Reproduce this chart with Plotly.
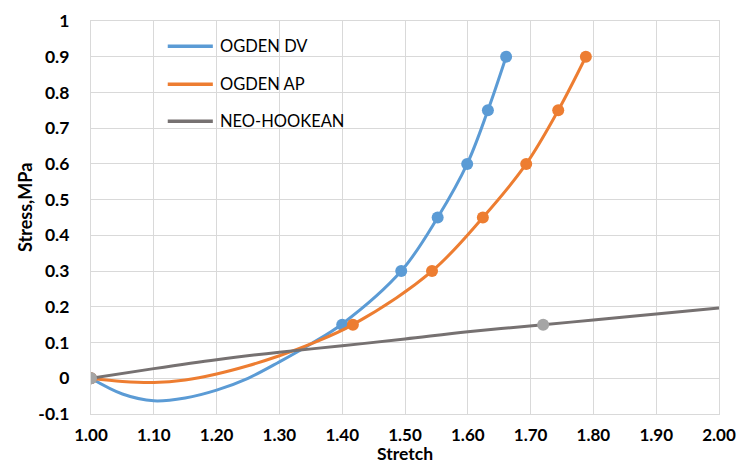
import plotly.graph_objects as go

# ---- data ----
dv_line_x = [1.00, 1.05, 1.10, 1.15, 1.20, 1.25, 1.30, 1.35, 1.40, 1.494, 1.552, 1.599, 1.632, 1.661]
dv_line_y = [0.0, -0.044, -0.063, -0.055, -0.033, 0.000, 0.046, 0.096, 0.152, 0.30, 0.45, 0.60, 0.75, 0.90]
dv_mark_x = [1.00, 1.40, 1.494, 1.552, 1.599, 1.632, 1.661]
dv_mark_y = [0.0, 0.15, 0.30, 0.45, 0.60, 0.75, 0.90]

ap_line_x = [1.00, 1.05, 1.10, 1.15, 1.20, 1.25, 1.30, 1.35, 1.417, 1.543, 1.624, 1.693, 1.744, 1.788]
ap_line_y = [0.0, -0.009, -0.012, -0.005, 0.012, 0.035, 0.063, 0.096, 0.15, 0.30, 0.45, 0.60, 0.75, 0.90]
ap_mark_x = [1.00, 1.417, 1.543, 1.624, 1.693, 1.744, 1.788]
ap_mark_y = [0.0, 0.15, 0.30, 0.45, 0.60, 0.75, 0.90]

nh_line_x = [1.00, 1.10, 1.20, 1.30, 1.40, 1.50, 1.60, 1.72, 1.80, 1.90, 2.00]
nh_line_y = [0.0, 0.027, 0.052, 0.073, 0.091, 0.110, 0.130, 0.150, 0.163, 0.180, 0.197]
nh_mark_x = [1.00, 1.72]
nh_mark_y = [0.0, 0.15]

x_ticks = [1.0, 1.1, 1.2, 1.3, 1.4, 1.5, 1.6, 1.7, 1.8, 1.9, 2.0]
x_tick_text = ["1.00", "1.10", "1.20", "1.30", "1.40", "1.50", "1.60", "1.70", "1.80", "1.90", "2.00"]
y_ticks = [-0.1, 0, 0.1, 0.2, 0.3, 0.4, 0.5, 0.6, 0.7, 0.8, 0.9, 1.0]
y_tick_text = ["-0.1", "0", "0.1", "0.2", "0.3", "0.4", "0.5", "0.6", "0.7", "0.8", "0.9", "1"]

series_names = ["OGDEN DV", "OGDEN AP", "NEO-HOOKEAN"]

BLUE = "#5B9BD5"
ORANGE = "#ED7D31"
GRAY_LINE = "#767171"
GRAY_MARK = "#A5A5A5"
FONT = "Lato"

fig = go.Figure()

series = [
    (series_names[0], dv_line_x, dv_line_y, dv_mark_x, dv_mark_y, BLUE, BLUE),
    (series_names[1], ap_line_x, ap_line_y, ap_mark_x, ap_mark_y, ORANGE, ORANGE),
    (series_names[2], nh_line_x, nh_line_y, nh_mark_x, nh_mark_y, GRAY_LINE, GRAY_MARK),
]
for name, lx, ly, mx, my, lc, mc in series:
    fig.add_trace(go.Scatter(
        x=lx, y=ly, mode="lines", name=name, showlegend=False,
        line=dict(color=lc, width=3, shape="spline", smoothing=1.0),
    ))
    fig.add_trace(go.Scatter(
        x=mx, y=my, mode="markers", name=name, showlegend=False,
        marker=dict(color=mc, size=12),
    ))

# manual legend (inside the plot area, top-left)
legend_y = [0.9357, 0.839, 0.745]
for (name, _, _, _, _, lc, _), ly in zip(series, legend_y):
    fig.add_shape(type="line", xref="paper", yref="paper",
                  x0=0.1222, x1=0.194, y0=ly, y1=ly,
                  line=dict(color=lc, width=3.5))
    fig.add_annotation(xref="paper", yref="paper", x=0.2019, y=ly,
                       text=name, showarrow=False, xanchor="left", yanchor="middle",
                       font=dict(family=FONT, size=16.5, color="#000000"))

# axis titles
fig.add_annotation(xref="paper", yref="paper", x=0.5, y=-0.1285,
                   text="<b>Stretch</b>", showarrow=False, xanchor="center", yanchor="bottom",
                   borderpad=0,
                   font=dict(family=FONT, size=17.5, color="#000000"))
fig.add_annotation(xref="paper", yref="paper", x=-0.104, y=0.526,
                   text="<b>Stress,MPa</b>", showarrow=False, textangle=-90,
                   xanchor="center", yanchor="middle",
                   font=dict(family=FONT, size=18, color="#000000"))

grid = "#D9D9D9"
fig.update_layout(
    width=737, height=465,
    margin=dict(l=91, r=18, t=21, b=51, autoexpand=False),
    paper_bgcolor="white", plot_bgcolor="white",
    font=dict(family=FONT, color="#000000"),
    showlegend=False,
    xaxis=dict(
        range=[1.0, 2.0], tickvals=x_ticks, ticktext=x_tick_text,
        automargin=False,
        showgrid=True, gridcolor=grid, gridwidth=1.3,
        showline=True, linecolor=grid, linewidth=1.3, mirror=True,
        zeroline=False,
        ticks="outside", ticklen=5, tickcolor="rgba(0,0,0,0)",
        tickfont=dict(family=FONT, size=17, color="#000000", weight="bold"),
    ),
    yaxis=dict(
        range=[-0.1, 1.0], tickvals=y_ticks, ticktext=y_tick_text,
        automargin=False,
        showgrid=True, gridcolor=grid, gridwidth=1.3,
        showline=True, linecolor=grid, linewidth=1.3, mirror=True,
        zeroline=False,
        ticks="outside", ticklen=17, tickcolor="rgba(0,0,0,0)",
        tickfont=dict(family=FONT, size=17.5, color="#000000", weight="bold"),
    ),
)

fig.write_html("out.html", config={"displayModeBar": False},
               post_script="document.body.style.margin='0px';")
